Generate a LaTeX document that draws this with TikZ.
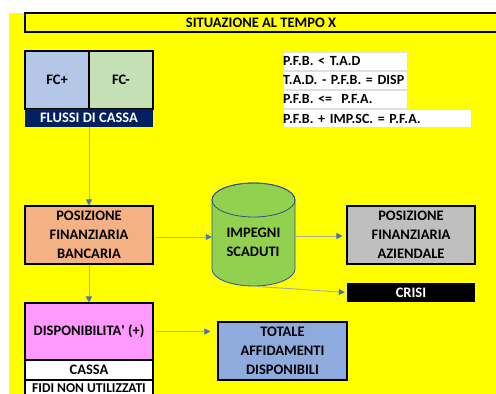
\documentclass[tikz,border=0pt]{standalone}
\usepackage{fontspec}
\setmainfont{Carlito}
\usetikzlibrary{arrows.meta, positioning, shapes.geometric}
\definecolor{sheetyellow}{RGB}{255, 255, 0}
\definecolor{fcplus}{RGB}{180, 199, 231}
\definecolor{fcminus}{RGB}{197, 224, 180}
\definecolor{cassanavy}{RGB}{0, 32, 96}
\definecolor{bancasalmon}{RGB}{244, 177, 131}
\definecolor{impegnigreen}{RGB}{146, 208, 80}
\definecolor{aziendagrey}{RGB}{191, 191, 191}
\definecolor{disppink}{RGB}{255, 153, 255}
\definecolor{affidiblue}{RGB}{143, 170, 220}
\definecolor{arrowblue}{RGB}{68, 114, 196}
\definecolor{cylinderedge}{RGB}{47, 82, 143}
\definecolor{linkline}{RGB}{165, 175, 150}

\begin{document}
\begin{tikzpicture}[
  x=1pt, y=-1pt,
  every node/.style={font=\bfseries\fontsize{14.5}{19}\selectfont, inner sep=0pt, align=center},
  cellbox/.style={draw=black, line width=1.1pt, minimum width=128pt, minimum height=58pt},
  formula/.style={fill=white, draw=gray!25, anchor=west, minimum height=18pt, text width=124pt, align=left,
                  font=\bfseries\fontsize{14}{19}\selectfont},
  link/.style={draw=linkline, line width=0.9pt, -{Triangle[color=arrowblue, length=6pt, width=6pt]}}
]
  \useasboundingbox (0,0) rectangle (496,394);
  \clip (0,0) rectangle (496,394);

  % Sheet background
  \fill[sheetyellow] (9,13) rectangle (496,394);

  % Title bar
  \node[draw=black, line width=1.1pt, minimum width=472pt, minimum height=19pt] (title) at (261,22.5) {SITUAZIONE AL TEMPO X};

  % Cash flows
  \node[cellbox, fill=fcplus, minimum width=64pt] (fcp) at (57,80) {FC+};
  \node[cellbox, fill=fcminus, minimum width=64pt] (fcm) at (121,80) {FC-};
  \node[fill=cassanavy, text=white, minimum width=128pt, minimum height=18pt] (flussi) at (89,118) {FLUSSI DI CASSA};

  % Formulas
  \node[formula] (f1) at (283,61) {P.F.B. < T.A.D};
  \node[formula] (f2) at (283,80) {T.A.D. - P.F.B. = DISP};
  \node[formula] (f3) at (283,99) {P.F.B. <=\ \ P.F.A.};
  \node[formula, text width=188pt] (f4) at (283,118.5) {P.F.B. + IMP.SC. = P.F.A.};

  % Positions
  \node[cellbox, fill=bancasalmon] (banca) at (89,235) {POSIZIONE\\FINANZIARIA\\BANCARIA};
  \filldraw[fill=impegnigreen, draw=cylinderedge, line width=0.8pt]
    (212,200) -- (212,269) arc (180:0:41.5 and 17) -- (295,200) arc (0:-180:41.5 and 17) -- cycle;
  \draw[cylinderedge, line width=0.8pt] (253.5,200) ellipse (41.5 and 17);
  \node[minimum width=83pt, minimum height=103pt,
        label={[align=left, yshift=-7.5pt]center:IMPEGNI\\SCADUTI}] (impegni) at (253.5,234.5) {};
  \node[cellbox, fill=aziendagrey] (azienda) at (411,235) {POSIZIONE\\FINANZIARIA\\AZIENDALE};
  \node[fill=black, text=white, minimum width=128pt, minimum height=19pt] (crisi) at (411,292.5) {CRISI};

  % Availability
  \node[cellbox, fill=disppink, minimum height=57pt] (disp) at (89,331.5) {DISPONIBILITA\textquotesingle\ (+)};
  \node[cellbox, fill=white, minimum height=20pt] (cassa) at (89,370) {CASSA};
  \node[cellbox, fill=white, minimum height=20pt, text height=10pt, text depth=6pt,
        font=\bfseries\fontsize{13.5}{19}\selectfont] (fidi) at (89,390) {FIDI NON UTILIZZATI};
  \node[cellbox, fill=affidiblue, minimum width=129pt] (totale) at (282.5,351) {TOTALE\\AFFIDAMENTI\\DISPONIBILI};

  % Connectors
  \draw[link] (flussi.south) -- (banca.north);
  \draw[link] (banca.south) -- (disp.north);
  \draw[link, shorten <=2pt] (banca.east |- 0,237) -- (impegni.west |- 0,237);
  \draw[link, shorten >=4pt] (impegni.east |- 0,236) -- (azienda.west |- 0,236);
  \draw[link, shorten <=1pt, shorten >=2pt] (impegni.south) -- (crisi.west);
  \draw[link, shorten <=2pt, shorten >=7pt] (disp.east) -- (totale.west |- disp.east);
\end{tikzpicture}
\end{document}
